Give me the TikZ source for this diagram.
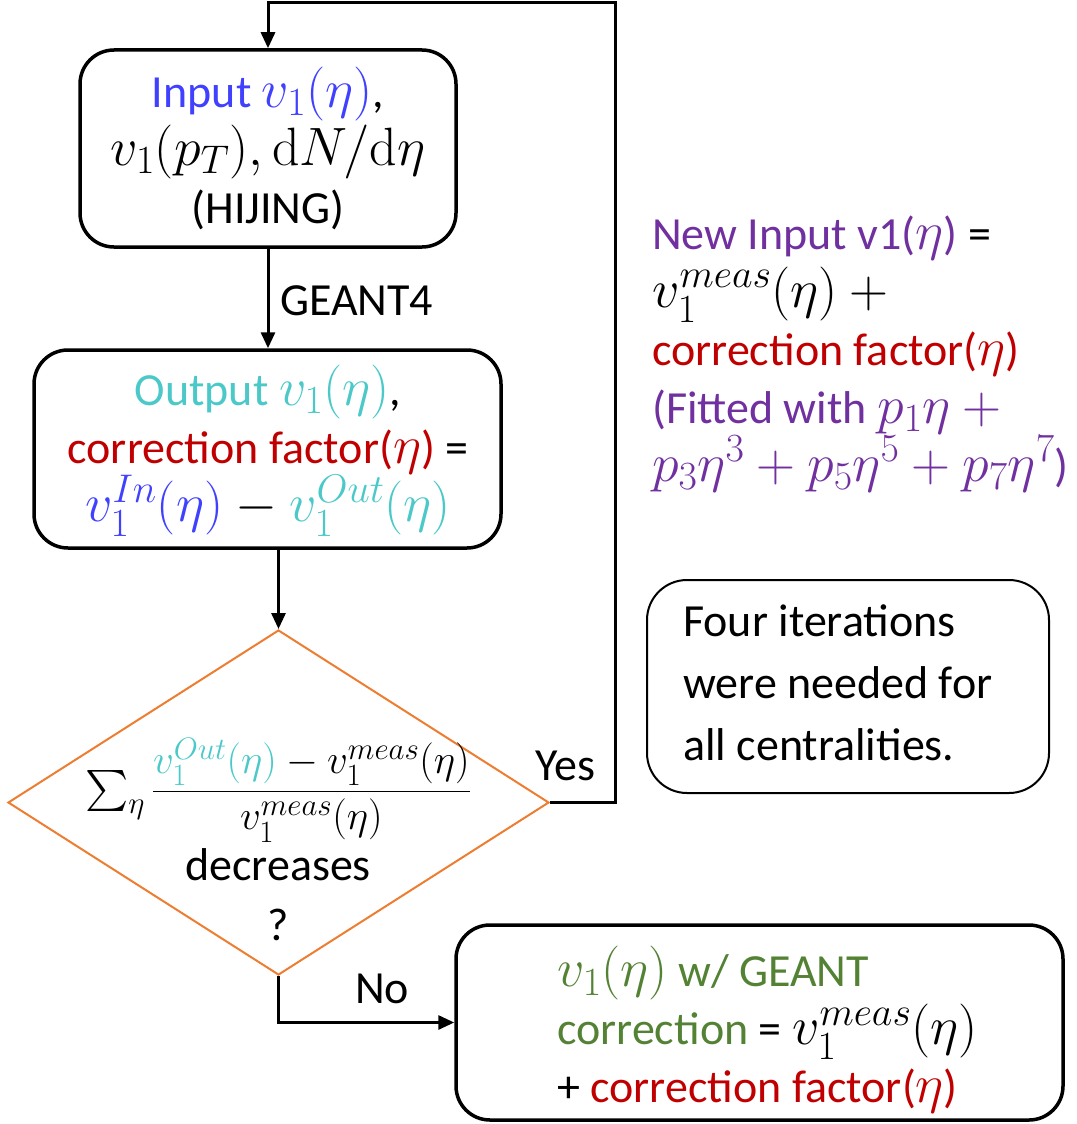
\RequirePackage{fix-cm}
\documentclass[tikz,border=0pt]{standalone}
\usepackage{amsmath}
\DeclareFontShape{OMX}{cmex}{m}{n}{<-7.5>cmex7<7.5-8.5>cmex8<8.5-9.5>cmex9<9.5->cmex10}{}
\usepackage[no-math]{fontspec}
\setmainfont{Carlito}
\usetikzlibrary{shapes.geometric,arrows.meta}
\definecolor{cblue}{RGB}{64,64,255}
\definecolor{ccyan}{RGB}{75,200,200}
\definecolor{cred}{RGB}{192,0,0}
\definecolor{cgreen}{RGB}{84,130,53}
\definecolor{cpurple}{RGB}{112,48,160}
\definecolor{corange}{RGB}{237,125,49}
\DeclareMathSizes{46}{54}{40}{31}
\DeclareMathSizes{35}{41}{31}{24}
\lineskiplimit=-100pt
\begin{document}
\begin{tikzpicture}[x=1pt,y=-1pt,
  box/.style={draw, line width=3.5pt, rounded corners=34pt, inner sep=0pt},
  txt/.style={font=\fontsize{46}{58}\selectfont, inner sep=0pt},
  conn/.style={line width=3pt, -{Triangle[length=16pt,width=14pt]}},
]
\useasboundingbox (0,0) rectangle (1076,1124);
% boxes
\node[box, minimum width=376pt, minimum height=197pt] (inbox) at (268,148.5) {};
\node[box, minimum width=467pt, minimum height=198pt] (outbox) at (267.5,449) {};
\node[draw=corange, line width=2pt, diamond, minimum width=541pt, minimum height=345pt, inner sep=0pt] (dec) at (278.5,802.5) {};
\node[box, minimum width=607pt, minimum height=195pt] (resbox) at (759.5,1022.5) {};
\node[draw, line width=2pt, rounded corners=40pt, minimum width=402pt, minimum height=213pt, inner sep=0pt] (notebox) at (848,686.5) {};
% texts
\node[txt, align=center] (intxt) at (268,148) {\textcolor{cblue}{Input $v_1(\eta)$},\\ $v_1(p_T),\mathrm{d}N/\mathrm{d}\eta$\\ (HIJING)};
\node[txt, align=center] (outtxt) at (268,451) {\textcolor{ccyan}{Output $v_1(\eta)$},\\ \textcolor{cred}{correction factor($\eta$)} =\\ ${\color{cblue}v_1^{In}(\eta)} - {\color{ccyan}v_1^{Out}(\eta)}$};
\node[inner sep=0pt, font=\fontsize{35}{40}\selectfont] (dectxt) at (278,790) {$\sum_\eta \dfrac{{\color{ccyan}v_1^{Out}(\eta)}-v_1^{meas}(\eta)}{v_1^{meas}(\eta)}$};
\node[txt, anchor=base] (dectxt2) at (278,880) {decreases};
\node[txt, anchor=base] (dectxt3) at (278,940) {?};
\node[txt, anchor=base west] (geant) at (280,315) {GEANT4};
\node[txt, anchor=base west] (yes) at (535,780) {Yes};
\node[txt, anchor=base west] (no) at (355,1003) {No};
\node[txt, align=left, anchor=west] (restxt) at (557,1030) {\textcolor{cgreen}{$v_1(\eta)$ w/ GEANT}\\ \textcolor{cgreen}{correction} = $v_1^{meas}(\eta)$\\ + \textcolor{cred}{correction factor($\eta$)}};
\node[txt, align=left, anchor=west] (newtxt) at (652,354) {\textcolor{cpurple}{New Input v1($\eta$)} =\\ $v_1^{meas}(\eta) +{}$\\ \textcolor{cred}{correction factor($\eta$)}\\ \textcolor{cpurple}{(Fitted with $p_1\eta +{}$}\\ \textcolor{cpurple}{$p_3\eta^3 + p_5\eta^5 + p_7\eta^7$)}};
\node[txt, align=left, anchor=west, font=\fontsize{46}{62}\selectfont] (notetxt) at (683,683) {Four iterations\\ were needed for\\ all centralities.};
% connectors
\draw[conn] (inbox.south) -- (outbox.north -| inbox.south);
\draw[conn] (outbox.south -| dec.north) -- (dec.north);
\coordinate (loop) at (615,3);
\draw[conn] (dec.east) -| (loop) -| (inbox.north);
\draw[conn] (dec.south) |- (resbox.west);
\end{tikzpicture}
\end{document}
